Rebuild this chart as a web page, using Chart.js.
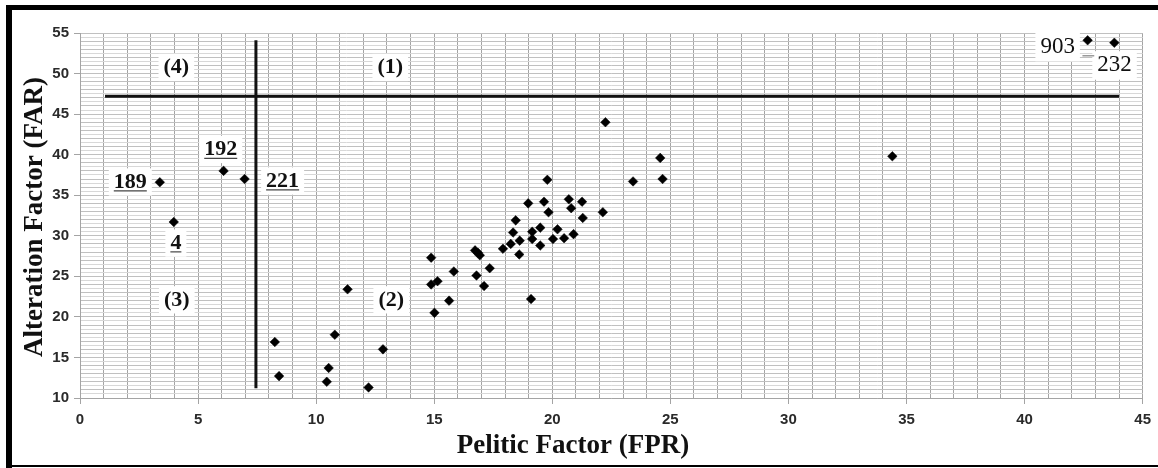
<!DOCTYPE html>
<html>
<head>
<meta charset="utf-8">
<script src="https://cdn.jsdelivr.net/npm/chart.js@4"></script>
<style>
  html, body { margin: 0; padding: 0; background: #ffffff; }
  #wrap { width: 1158px; height: 468px; position: relative; }
</style>
</head>
<body>
<div id="wrap"><canvas id="c" width="1158" height="468"></canvas></div>
<script>
// ---- data ----
const fprValues = [3.38, 3.97, 6.08, 6.97, 8.25, 8.43, 10.45, 10.53, 10.79, 11.33, 12.22, 12.83,
  14.87, 14.87, 15.14, 15.01, 15.63, 15.83, 16.73, 16.85, 16.93, 16.79, 17.11, 17.35, 17.91,
  18.24, 18.34, 18.45, 18.60, 18.62, 18.98, 19.10, 19.15, 19.15, 19.49, 19.49, 19.65, 19.79,
  19.84, 20.03, 20.22, 20.50, 20.70, 20.80, 20.90, 21.26, 21.29, 22.14, 22.25, 23.42, 24.57,
  24.67, 34.40, 42.67, 43.80];
const farValues = [36.6, 31.7, 38.0, 37.0, 16.9, 12.7, 12.0, 13.7, 17.8, 23.4, 11.3, 16.0,
  27.3, 24.0, 24.4, 20.5, 22.0, 25.6, 28.2, 27.9, 27.6, 25.1, 23.8, 26.0, 28.4,
  29.0, 30.4, 31.9, 27.7, 29.4, 34.0, 22.2, 30.5, 29.6, 31.0, 28.8, 34.2, 36.9,
  32.9, 29.6, 30.8, 29.7, 34.5, 33.4, 30.2, 34.2, 32.2, 32.9, 44.0, 36.7, 39.6,
  37.0, 39.8, 54.1, 53.8];

// divider lines
const hLineX = [1.06, 44.0];
const hLineY = [47.2, 47.2];
const vLineX = [7.45, 7.45];
const vLineY = [11.2, 54.1];
// small leader dash near sample 903
const dashX = [42.45, 42.95];
const dashY = [52.2, 52.2];

// tick labels
const xTickLabels = [0, 5, 10, 15, 20, 25, 30, 35, 40, 45];
const yTickLabels = [10, 15, 20, 25, 30, 35, 40, 45, 50, 55];

// annotations
const noteTexts     = ['(4)', '(1)', '(3)', '(2)', '189', '192', '221', '4', '903', '232'];
const noteX         = [4.08, 13.14, 4.10, 13.18, 2.13, 5.96, 8.58, 4.06, 41.40, 43.81];
const noteY         = [50.75, 50.75, 22.1, 22.1, 36.63, 40.64, 36.75, 29.1, 53.27, 51.0];
const noteBold      = [true, true, true, true, true, true, true, true, false, false];
const noteUnderline = [false, false, false, false, true, true, true, true, false, false];

const xTitle = 'Pelitic Factor (FPR)';
const yTitle = 'Alteration Factor (FAR)';

// ---- build ----
const pts = fprValues.map((x, i) => ({ x: x, y: farValues[i] }));
const toPts = (xs, ys) => xs.map((x, i) => ({ x: x, y: ys[i] }));

const notesPlugin = {
  id: 'notes',
  beforeDatasetsDraw(chart) {
    const ctx = chart.ctx;
    const xs = chart.scales.x, ys = chart.scales.y;
    ctx.save();
    noteTexts.forEach((t, i) => {
      const px = xs.getPixelForValue(noteX[i]);
      const py = ys.getPixelForValue(noteY[i]);
      const size = noteBold[i] ? 22 : 23;
      ctx.font = (noteBold[i] ? 'bold ' : '') + size + 'px "Liberation Serif", "Times New Roman", serif';
      const w = ctx.measureText(t).width;
      ctx.fillStyle = '#ffffff';
      ctx.fillRect(px - w / 2 - 5, py - size * 0.62, w + 10, size * 1.24);
      ctx.fillStyle = '#111111';
      ctx.textAlign = 'center';
      ctx.textBaseline = 'middle';
      ctx.fillText(t, px, py);
      if (noteUnderline[i]) {
        ctx.strokeStyle = '#444444';
        ctx.lineWidth = 1.2;
        ctx.beginPath();
        ctx.moveTo(px - w / 2, py + size * 0.4);
        ctx.lineTo(px + w / 2, py + size * 0.4);
        ctx.stroke();
      }
    });
    ctx.restore();
  },
  afterDraw(chart) {
    const ctx = chart.ctx;
    ctx.save();
    // axis titles
    ctx.fillStyle = '#111111';
    ctx.font = 'bold 27px "Liberation Serif", "Times New Roman", serif';
    ctx.textAlign = 'center';
    ctx.textBaseline = 'alphabetic';
    ctx.fillText(xTitle, 573, 453);
    ctx.translate(42, 217);
    ctx.rotate(-Math.PI / 2);
    ctx.fillText(yTitle, 0, 0);
    ctx.restore();
    // frame
    ctx.save();
    ctx.fillStyle = '#000000';
    ctx.fillRect(6, 5, 1152, 5);
    ctx.fillRect(6, 5, 6, 463);
    ctx.fillRect(6, 465, 1152, 2);
    ctx.restore();
  }
};

new Chart(document.getElementById('c'), {
  type: 'scatter',
  data: {
    datasets: [
      { data: toPts(hLineX, hLineY), showLine: true, borderColor: '#111', borderWidth: 3, pointRadius: 0, order: 2 },
      { data: toPts(vLineX, vLineY), showLine: true, borderColor: '#111', borderWidth: 3, pointRadius: 0, order: 2 },
      { data: toPts(dashX, dashY), showLine: true, borderColor: '#9a9a9a', borderWidth: 1.5, pointRadius: 0, order: 2 },
      { data: pts, pointStyle: 'rectRot', pointRadius: 4.8, pointHoverRadius: 4.8,
        backgroundColor: '#000', borderColor: '#000', borderWidth: 0.5, order: 1 }
    ]
  },
  options: {
    responsive: false,
    animation: false,
    events: [],
    layout: { padding: { left: 0, right: 13, top: 33, bottom: 0 } },
    plugins: { legend: { display: false }, tooltip: { enabled: false } },
    scales: {
      x: {
        type: 'linear', min: 0, max: 45,
        afterFit(s) { s.height = 70; },
        ticks: {
          stepSize: 1, autoSkip: false, maxRotation: 0, padding: 7,
          color: '#2a2a2a',
          font: { family: '"Liberation Sans", Arial, sans-serif', size: 15, weight: 'bold' },
          callback: v => xTickLabels.includes(v) ? String(v) : ''
        },
        grid: {
          color: '#a4a4a4', lineWidth: 1, tickLength: 6,
          tickColor: c => (c.tick && xTickLabels.includes(c.tick.value)) ? '#a4a4a4' : 'rgba(0,0,0,0)'
        },
        border: { color: '#a4a4a4' }
      },
      y: {
        type: 'linear', min: 10, max: 55,
        afterFit(s) { s.width = 80; },
        ticks: {
          stepSize: 0.5, autoSkip: false, padding: 5,
          color: '#2a2a2a',
          font: { family: '"Liberation Sans", Arial, sans-serif', size: 15, weight: 'bold' },
          callback: v => yTickLabels.includes(v) ? String(v) : ''
        },
        grid: {
          color: c => (c.tick && Number.isInteger(c.tick.value)) ? '#c0c0c0' : '#d8d8d8',
          lineWidth: 1, tickLength: 6,
          tickColor: c => (c.tick && yTickLabels.includes(c.tick.value)) ? '#a4a4a4' : 'rgba(0,0,0,0)'
        },
        border: { color: '#a4a4a4' }
      }
    }
  },
  plugins: [notesPlugin]
});
</script>
</body>
</html>
